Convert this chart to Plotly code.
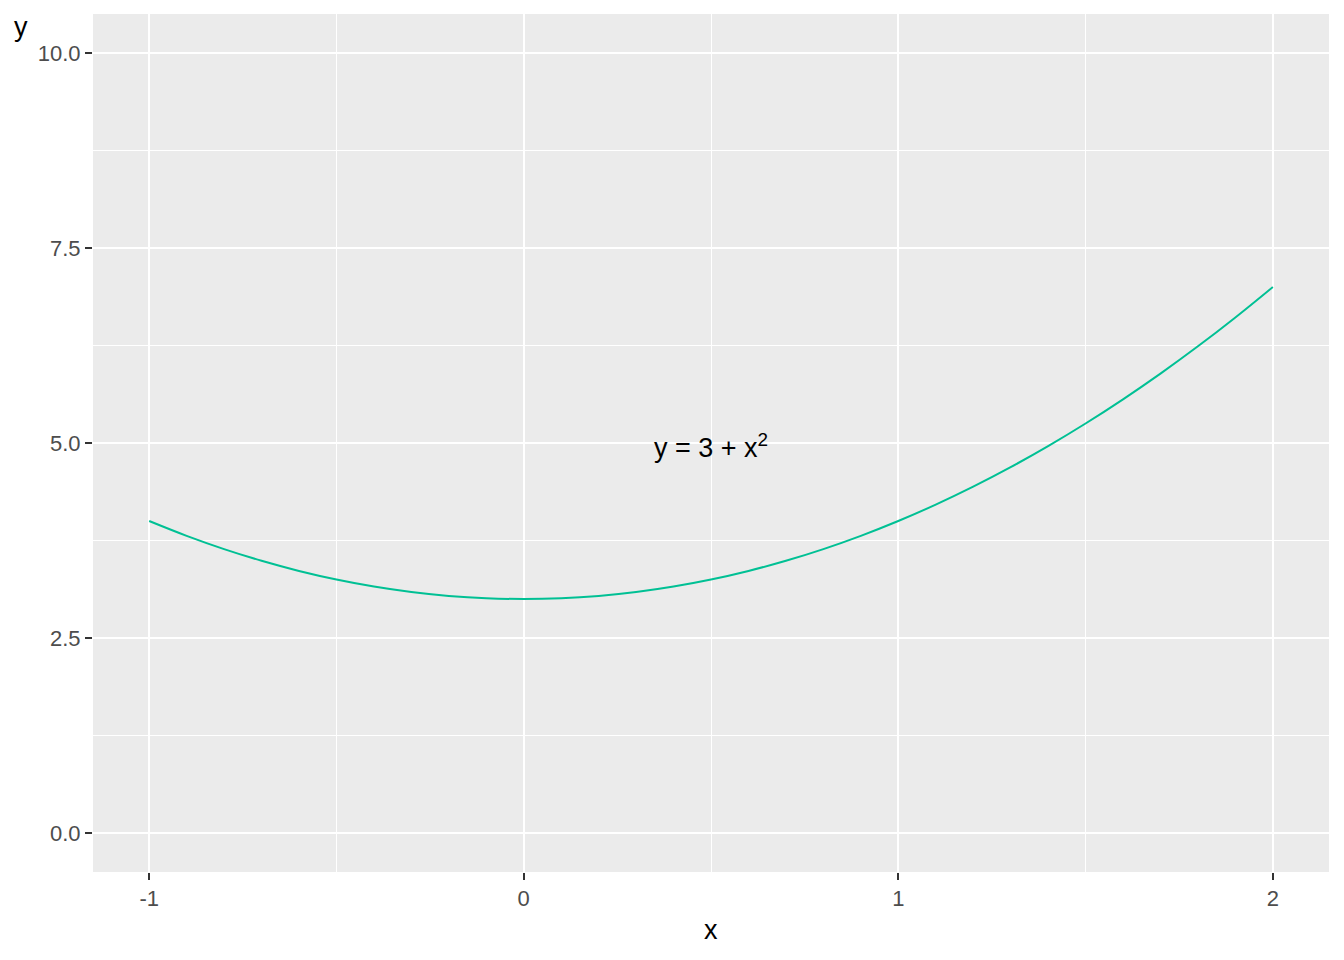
import plotly.graph_objects as go

# curve points
x_vals = [-1.0, -0.9, -0.8, -0.7, -0.6, -0.5, -0.4, -0.3, -0.2, -0.1, 0.0,
          0.1, 0.2, 0.3, 0.4, 0.5, 0.6, 0.7, 0.8, 0.9, 1.0,
          1.1, 1.2, 1.3, 1.4, 1.5, 1.6, 1.7, 1.8, 1.9, 2.0]
y_vals = [4.0, 3.81, 3.64, 3.49, 3.36, 3.25, 3.16, 3.09, 3.04, 3.01, 3.0,
          3.01, 3.04, 3.09, 3.16, 3.25, 3.36, 3.49, 3.64, 3.81, 4.0,
          4.21, 4.44, 4.69, 4.96, 5.25, 5.56, 5.89, 6.24, 6.61, 7.0]

x_ticks = [-1, 0, 1, 2]
x_labels = ["-1", "0", "1", "2"]
y_ticks = [0, 2.5, 5, 7.5, 10]
y_labels = ["0.0", "2.5", "5.0", "7.5", "10.0"]

label_x = 0.5
label_y = 5
label_text = "y = 3 + x<sup>2</sup>"

font = "Liberation Sans, Arial, sans-serif"
panel = "#EBEBEB"

fig = go.Figure()
fig.add_trace(go.Scatter(x=x_vals, y=y_vals, mode="lines",
                         line=dict(color="#00C094", width=2, shape="spline"),
                         hoverinfo="skip", showlegend=False))

fig.add_annotation(x=label_x, y=label_y, text=label_text, showarrow=False,
                   yshift=-3, font=dict(family=font, size=27, color="black"))

# axis titles placed like ggplot (page has 8px body margin, so offsets are in plot px)
fig.add_annotation(x=0, y=1, xref="paper", yref="paper", text="y",
                   showarrow=False, xanchor="center", yanchor="middle",
                   xshift=-72, yshift=-13,
                   font=dict(family=font, size=27, color="black"))
fig.add_annotation(x=0.5, y=0, xref="paper", yref="paper", text="x",
                   showarrow=False, xanchor="center", yanchor="middle",
                   yshift=-58,
                   font=dict(family=font, size=27, color="black"))

axis_common = dict(showline=False, zeroline=False, showgrid=True,
                   gridcolor="white", gridwidth=2,
                   ticks="outside", ticklen=7, tickwidth=2, tickcolor="#333333",
                   tickfont=dict(family=font, size=22, color="#4D4D4D"))

fig.update_xaxes(range=[-1.15, 2.15], tickvals=x_ticks, ticktext=x_labels,
                 minor=dict(dtick=0.5, tick0=-1, showgrid=True,
                            gridcolor="white", gridwidth=1, ticks=""),
                 **axis_common)
fig.update_yaxes(range=[-0.5, 10.5], tickvals=y_ticks, ticktext=y_labels,
                 minor=dict(dtick=1.25, tick0=0, showgrid=True,
                            gridcolor="white", gridwidth=1, ticks=""),
                 **axis_common)

fig.update_layout(width=1336, height=952,
                  margin=dict(l=85, r=15, t=6, b=88),
                  plot_bgcolor=panel, paper_bgcolor="white",
                  font=dict(family=font))

fig.write_html("out.html")
